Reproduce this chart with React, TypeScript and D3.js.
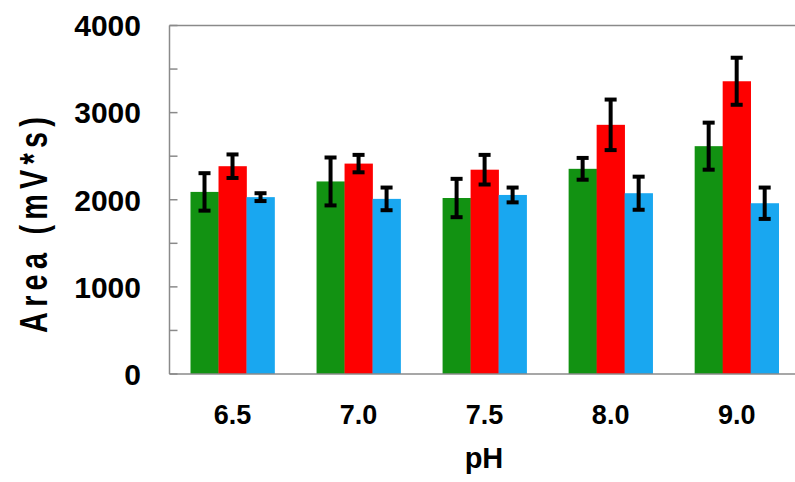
import React, { useEffect, useRef } from 'react';
import * as d3 from 'd3';

const categories = ['6.5', '7.0', '7.5', '8.0', '9.0'];
const seriesNames = ['green', 'red', 'blue'];
const seriesColors = ['#129212', '#fe0000', '#19a7f0'];

// mean area per pH, one array per series
const greenValues = [2090, 2210, 2020, 2355, 2615];
const redValues = [2385, 2415, 2345, 2860, 3360];
const blueValues = [2030, 2010, 2055, 2075, 1960];

// +/- error
const greenErrors = [215, 275, 220, 125, 270];
const redErrors = [135, 100, 170, 290, 270];
const blueErrors = [45, 130, 85, 190, 180];

const yTicks = [0, 500, 1000, 1500, 2000, 2500, 3000, 3500, 4000];
const yLabels = [0, 1000, 2000, 3000, 4000];

const App = () => {
    const svgRef = useRef<SVGSVGElement>(null);

    useEffect(() => {
        const width = 795;
        const height = 482;
        const left = 169.5;
        const right = 799.7;
        const top = 25.5;
        const bottom = 374;

        const svg = d3.select(svgRef.current);
        svg.selectAll('*').remove();
        svg.attr('width', width).attr('height', height);

        const values = [greenValues, redValues, blueValues];
        const errors = [greenErrors, redErrors, blueErrors];
        const rows = categories.flatMap((c, i) =>
            seriesNames.map((s, j) => ({ cat: c, series: s, idx: j, value: values[j][i], err: errors[j][i] }))
        );

        const x = d3.scaleBand().domain(categories).range([left, right]).paddingInner(1 / 3).paddingOuter(1 / 6);
        const xs = d3.scaleBand().domain(seriesNames).range([0, x.bandwidth()]);
        const y = d3.scaleLinear().domain([0, 4000]).range([bottom, top]);

        // bars
        svg.append('g')
            .selectAll('rect')
            .data(rows)
            .enter()
            .append('rect')
            .attr('x', d => (x(d.cat) as number) + (xs(d.series) as number))
            .attr('y', d => y(d.value))
            .attr('width', xs.bandwidth() + 0.3)
            .attr('height', d => y(0) - y(d.value))
            .attr('fill', d => seriesColors[d.idx]);

        // error bars
        const eb = svg.append('g').attr('stroke', '#000').attr('stroke-width', 4);
        rows.forEach(d => {
            const cx = (x(d.cat) as number) + (xs(d.series) as number) + xs.bandwidth() / 2;
            eb.append('line').attr('x1', cx).attr('x2', cx).attr('y1', y(d.value + d.err)).attr('y2', y(d.value - d.err));
            [d.value + d.err, d.value - d.err].forEach(v => {
                eb.append('line').attr('x1', cx - 6).attr('x2', cx + 6).attr('y1', y(v)).attr('y2', y(v));
            });
        });

        // frame: left, top and bottom lines
        const axis = svg.append('g').attr('stroke', '#8a8a8a').attr('stroke-width', 1.5).attr('fill', 'none');
        axis.append('line').attr('x1', left).attr('x2', left).attr('y1', top).attr('y2', bottom);
        axis.append('line').attr('x1', left).attr('x2', width).attr('y1', top).attr('y2', top);
        axis.append('line').attr('x1', left).attr('x2', width).attr('y1', bottom).attr('y2', bottom);
        yTicks.forEach(t => {
            axis.append('line').attr('x1', left).attr('x2', left + 8).attr('y1', y(t)).attr('y2', y(t));
        });

        const font = 'Liberation Sans, Arial, sans-serif';

        svg.append('g')
            .selectAll('text')
            .data(yLabels)
            .enter()
            .append('text')
            .attr('x', 141)
            .attr('y', d => y(d))
            .attr('dy', '0.36em')
            .attr('text-anchor', 'end')
            .attr('font-family', font)
            .attr('font-weight', 'bold')
            .attr('font-size', 30)
            .text(d => d);

        svg.append('g')
            .selectAll('text')
            .data(categories)
            .enter()
            .append('text')
            .attr('x', d => (x(d) as number) + x.bandwidth() / 2)
            .attr('y', 424)
            .attr('text-anchor', 'middle')
            .attr('font-family', font)
            .attr('font-weight', 'bold')
            .attr('font-size', 27)
            .text(d => d);

        svg.append('text')
            .attr('x', 484)
            .attr('y', 468)
            .attr('text-anchor', 'middle')
            .attr('font-family', font)
            .attr('font-weight', 'bold')
            .attr('font-size', 29)
            .text('pH');

        // y title: tall, narrow glyphs
        svg.append('text')
            .attr('transform', 'translate(47,225) rotate(-90) scale(0.76,1)')
            .attr('text-anchor', 'middle')
            .attr('font-family', font)
            .attr('font-weight', 'bold')
            .attr('font-size', 38)
            .attr('textLength', 284)
            .attr('lengthAdjust', 'spacing')
            .text('Area (mV*s)');
    }, []);

    return (
        <div style={{ position: 'absolute', left: 0, top: 0, width: 795, height: 482, background: '#fff' }}>
            <svg ref={svgRef} style={{ display: 'block' }}></svg>
        </div>
    );
};

export default App;
